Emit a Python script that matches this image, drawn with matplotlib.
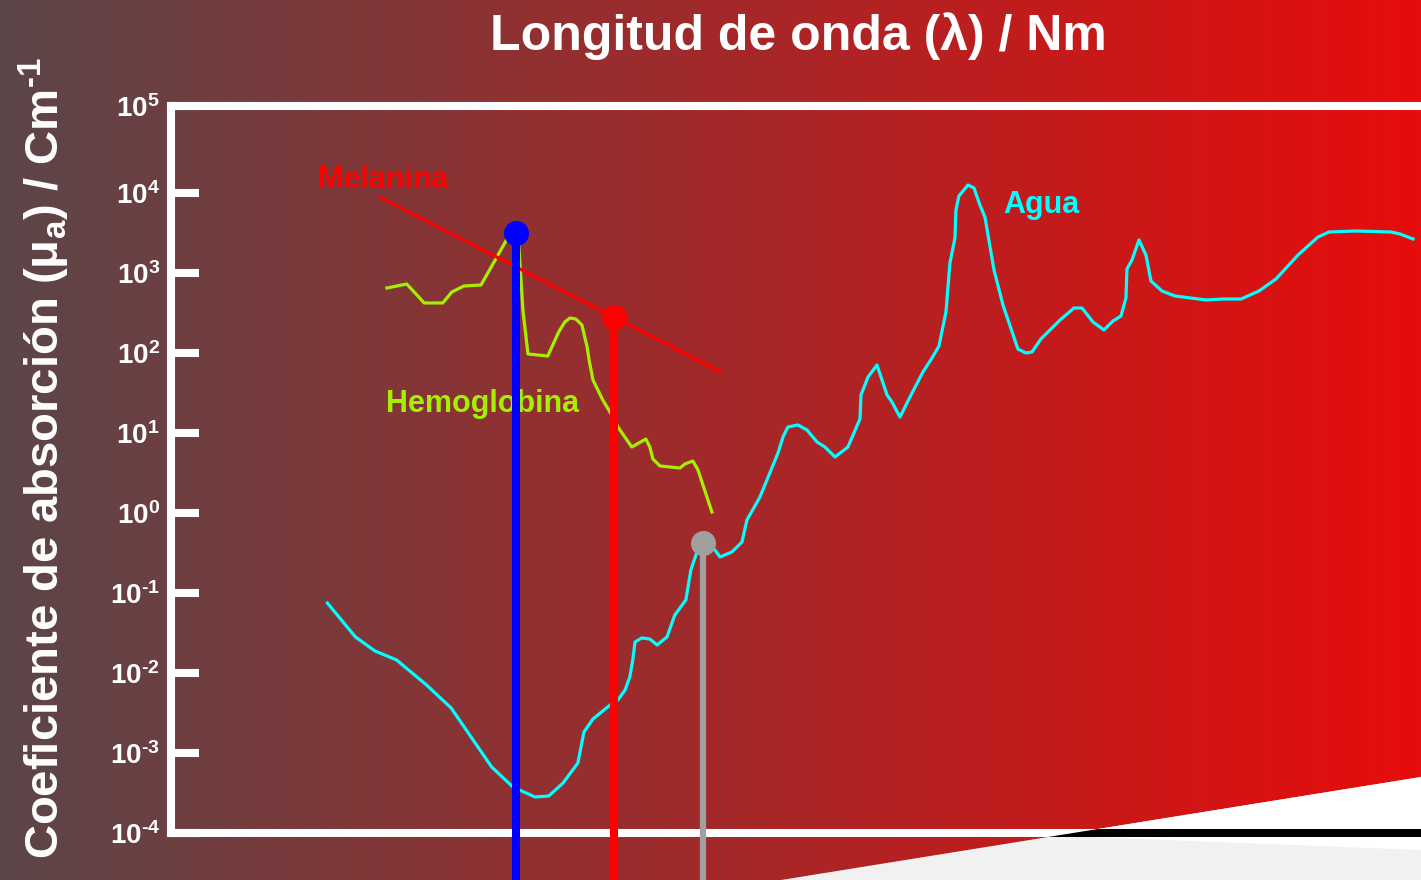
import numpy as np
import matplotlib
matplotlib.use("Agg")
import matplotlib.pyplot as plt
from matplotlib.ticker import NullLocator, FixedLocator

plt.rcParams['font.family'] = ['Liberation Sans', 'DejaVu Sans']
plt.rcParams['font.weight'] = 'bold'
plt.rcParams['mathtext.fontset'] = 'custom'
plt.rcParams['mathtext.rm'] = 'Liberation Sans:bold'
plt.rcParams['mathtext.it'] = 'Liberation Sans:bold'
plt.rcParams['mathtext.bf'] = 'Liberation Sans:bold'
plt.rcParams['mathtext.default'] = 'rm'

# water (Agua): wavelength nm, absorption cm^-1
agua_nm = [214, 240, 260, 284, 321, 355, 419, 457, 500, 529, 561, 596, 611, 634,
           680, 702, 723, 737, 746, 753, 774, 800, 824, 858, 886, 927, 946, 970,
           990, 1044, 1066, 1119, 1166, 1190, 1255, 1351, 1379, 1407, 1466, 1521,
           1585, 1637, 1706, 1798, 1889, 1897, 1952, 2025, 2110, 2153, 2225, 2308,
           2444, 2536, 2609, 2685, 2729, 2786, 2797, 2831, 2938, 3011, 3085, 3149,
           3268, 3390, 3604, 3724, 3817, 3960, 4280, 4532, 4682, 4898, 5123, 5315,
           5492, 5605, 5628, 5745, 5911, 6082, 6209, 6494, 6848, 7777, 8335, 8974,
           9656, 10350, 11330, 12290, 12860, 14360, 16570, 17190, 18130]
agua_mu = [0.0750, 0.0282, 0.01884, 0.01454, 0.00708, 0.00365, 6.68e-4, 3.76e-4,
           2.82e-4, 2.90e-4, 4.22e-4, 7.50e-4, 1.83e-3, 2.66e-3, 3.98e-3, 4.60e-3,
           6.13e-3, 8.91e-3, 0.01454, 0.0244, 0.0274, 0.0266, 0.0224, 0.0282,
           0.0531, 0.0818, 0.194, 0.326, 0.422, 0.345, 0.282, 0.326, 0.434, 0.818,
           1.585, 5.62, 8.91, 11.9, 12.6, 10.9, 7.72, 6.68, 5.01, 6.68, 15.0, 29.9,
           50.1, 70.8, 29.9, 24.4, 15.8, 26.6, 57.9, 86.6, 122, 325, 1334, 2738,
           6131, 9173, 12590, 11550, 7079, 5012, 1090, 398, 112, 100, 103, 150,
           258, 365, 365, 244, 194, 251, 290, 487, 1122, 1454, 2585, 1679, 794,
           596, 516, 460, 473, 473, 596, 841, 1679, 2818, 3254, 3350, 3254, 3073,
           2661]

# hemoglobin (Hemoglobina)
hb_nm = [273, 296, 318, 343, 356, 374, 401, 428, 446, 461, 468, 472, 476, 486,
         527, 538, 551, 565, 577, 591, 606, 613, 619, 624, 634, 660, 688, 702,
         743, 787, 800, 810, 834, 905, 923, 954, 974, 1031]
hb_mu = [649, 729, 422, 422, 579, 688, 708, 1585, 2661, 3162, 2239, 891, 345,
         97.2, 91.7, 126, 183, 244, 274, 266, 224, 158, 119, 81.7, 46.0, 25.8,
         15.8, 11.9, 6.68, 8.41, 6.68, 4.73, 3.87, 3.65, 4.10, 4.47, 3.45, 1.03]

# melanin (Melanina), straight line on log-log
mel_nm = [265, 1070]
mel_mu = [8913, 57.9]

# laser lines with marker
laser_nm = [463, 690, 994]
laser_mu = [3162, 282, 0.422]
laser_col = ['#0000ff', '#ff0000', '#a0a0a0']
laser_lw = [5.8, 5.8, 4.5]

ytick_exp = [-4, -3, -2, -1, 0, 1, 2, 3, 4, 5]
ytop = 10 ** 5.0875   # top of the axis, labelled 10^5

W, H = 1421, 880
fig = plt.figure(figsize=(W / 100, H / 100), dpi=100)

# background gradient + light corner
bg = fig.add_axes([0, 0, 1, 1], zorder=0)
t = np.linspace(0, 1, 400)
c0 = np.array([92, 70, 72]) / 255
c1 = np.array([232, 12, 12]) / 255
grad = (c0[None, :] * (1 - t[:, None]) + c1[None, :] * t[:, None])[None, :, :]
bg.imshow(grad, extent=[0, W, H, 0], aspect='auto')
bg.fill([781, W, W], [H, 777, H], color='#f1f1f1', lw=0)
bg.fill([1073, W, W, 1090], [833, 777, 850, 837], color='white', lw=0)
bg.set_xlim(0, W); bg.set_ylim(H, 0)
bg.axis('off')

ax = fig.add_axes([171 / W, (H - 833) / H, (W - 171) / W, (833 - 106) / H], zorder=1)
ax.patch.set_alpha(0)
ax.set_xscale('log'); ax.set_yscale('log')
ax.set_xlim(112.9, 18730)
ax.set_ylim(1e-4, ytop)

ax.plot(agua_nm, agua_mu, color='#00ffff', lw=2.3, zorder=2)
ax.plot(hb_nm, hb_mu, color='#a4f000', lw=2.3, zorder=2)
ax.plot(mel_nm, mel_mu, color='#ff0000', lw=2.3, zorder=3)
for x, y, c, lw in zip(laser_nm, laser_mu, laser_col, laser_lw):
    ax.plot([x, x], [y, 1e-6], color=c, lw=lw, zorder=4, clip_on=False,
            solid_capstyle='butt')
    ax.plot([x], [y], 'o', color=c, ms=17, zorder=5, clip_on=False)

ax.text(206, 11550, 'Melanina', color='#ff0000', fontsize=22, fontweight='bold')
ax.text(272, 18.3, 'Hemoglobina', color='#a4f000', fontsize=22, fontweight='bold')
ax.text(3390, 5623, 'Agua', color='#00ffff', fontsize=22, fontweight='bold')

for s in ['left', 'top', 'bottom']:
    ax.spines[s].set_color('white')
    ax.spines[s].set_linewidth(5.8)
ax.spines['right'].set_visible(False)
ax.xaxis.set_major_locator(NullLocator())
ax.xaxis.set_minor_locator(NullLocator())
ypos = [10.0 ** e for e in ytick_exp[:-1]] + [ytop]
ax.yaxis.set_major_locator(FixedLocator(ypos))
ax.yaxis.set_minor_locator(NullLocator())
ax.set_yticklabels(['10$^{\\text{%s}}$' % str(e).replace('-', '-') for e in ytick_exp])
ax.tick_params(axis='y', direction='in', length=20, width=5.8, color='white',
               labelcolor='white', labelsize=20, pad=8)

# black part of bottom axis over the light corner
ov = fig.add_axes([0, 0, 1, 1], zorder=3)
ov.fill([1048, 1098, W, W], [837, 829, 829, 837], color='black', lw=0)
ov.set_xlim(0, W); ov.set_ylim(H, 0)
ov.axis('off')

fig.text(798 / W, 1 - 50 / H, 'Longitud de onda (λ) / Nm', color='white',
         fontsize=36, fontweight='bold', ha='center', va='baseline')
fig.text(44 / W, 1 - 57 / H,
         'Coeficiente de absorción (μ$_{a}$) / Cm$^{\\text{-1}}$',
         color='white', fontsize=34, fontweight='bold', rotation=90,
         ha='center', va='top')

fig.savefig('out.png', dpi=100)
